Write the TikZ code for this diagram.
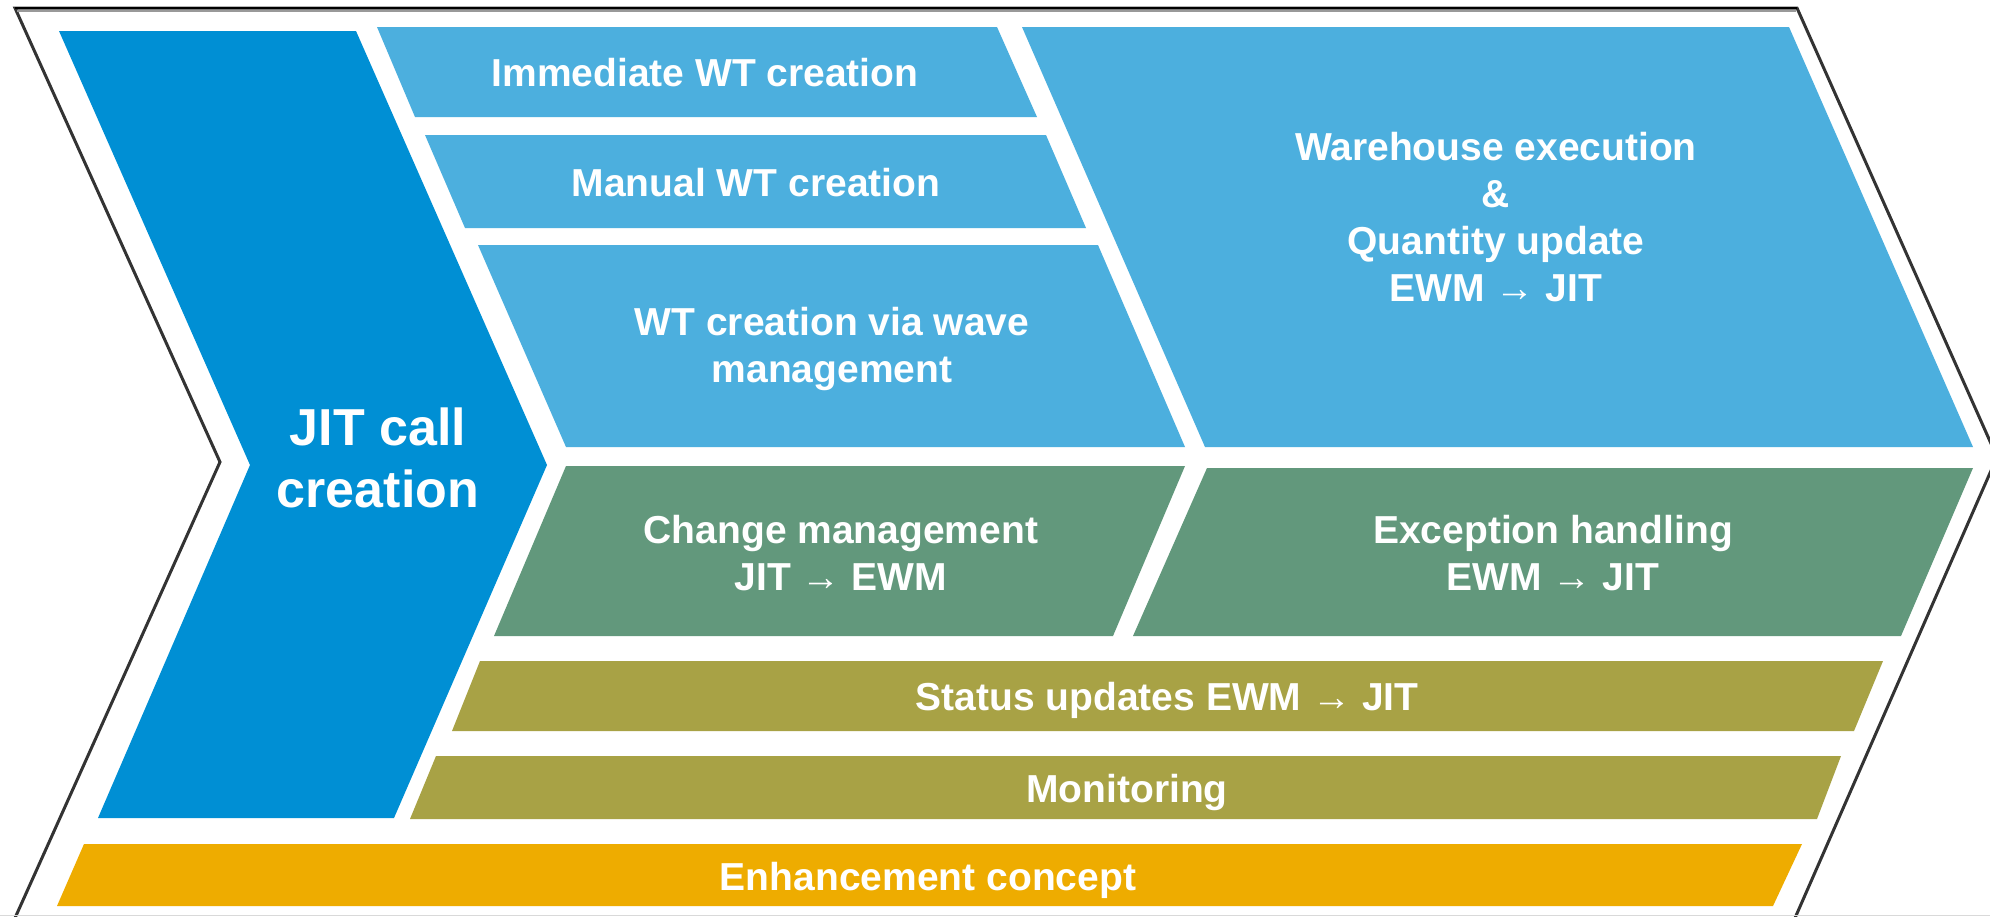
\documentclass[tikz,border=0pt]{standalone}
\usepackage{fontspec}
\setmainfont{Liberation Sans}
\definecolor{jitblue}{RGB}{0,143,212}
\definecolor{lblue}{RGB}{76,175,222}
\definecolor{sgreen}{RGB}{98,152,124}
\definecolor{olivebar}{RGB}{168,162,69}
\definecolor{goldbar}{RGB}{238,172,0}
\begin{document}
\begin{tikzpicture}[x=1pt,y=-1pt,
  lbl/.style={text=white,font=\bfseries\fontsize{39}{47}\selectfont,align=center,inner sep=0pt},
  one/.style={lbl,text height=28pt,text depth=0pt},
  big/.style={text=white,font=\bfseries\fontsize{52}{62}\selectfont,align=center,inner sep=0pt},
  outline/.style={draw=black!80,line width=3pt,line join=miter}]
\useasboundingbox (0,0) rectangle (1990,916);
\clip (0,0) rectangle (1990,916);
\fill[white] (0,0) rectangle (1990,916);

% outer chevron outline
\coordinate (oTL) at (15,8);
\coordinate (oTR) at (1797,8);
\coordinate (oTip) at (1997,457);
\coordinate (oBR) at (1795,918);
\coordinate (oBL) at (15,918);
\coordinate (oNotch) at (220,462);
\draw[outline] (oBL) -- (oNotch) -- (oTL) -- (oTR) -- (oTip) -- (oBR);
\draw[black,line width=2.5pt] (oTL) -- (oTR);
\draw[black!40,line width=2pt] (17,10.5) -- (1796,10.5);
\draw[black!15,line width=1pt] (0,915) -- (1990,915);

% JIT call creation
\fill[jitblue] (59,31) -- (356,31) -- (547,465) -- (394,818) -- (98,818) -- (250,465) -- cycle;
% light blue upper area
\fill[lblue] (377,27) -- (997,27) -- (1037,117) -- (415,117) -- cycle;
\fill[lblue] (425,135) -- (1046,135) -- (1086,228) -- (465,228) -- cycle;
\fill[lblue] (478,245) -- (1098,245) -- (1185,447) -- (566,447) -- cycle;
\fill[lblue] (1022,27) -- (1789,27) -- (1973,447) -- (1205,447) -- cycle;
% green row
\fill[sgreen] (566,466) -- (1185,466) -- (1113,636) -- (494,636) -- cycle;
\fill[sgreen] (1207,468) -- (1973,468) -- (1901,636) -- (1133,636) -- cycle;
% olive bars
\fill[olivebar] (480,661) -- (1883,661) -- (1854,731) -- (452,731) -- cycle;
\fill[olivebar] (436,756) -- (1841,756) -- (1817,819) -- (410,819) -- cycle;
% gold bar
\fill[goldbar] (84,844) -- (1802,844) -- (1773,906) -- (57,906) -- cycle;

% texts
\node[big] (jit) at (378,458) {JIT call\\creation};
\node[one] (imm) at (705,72) {Immediate WT creation};
\node[one] (man) at (756,182) {Manual WT creation};
\node[lbl] (wave) at (832,349) {WT creation via wave\\management};
\node[lbl] (wh) at (1496,217) {Warehouse execution\\\&\\Quantity update\\EWM → JIT};
\node[lbl] (chg) at (841,553) {Change management\\JIT → EWM};
\node[lbl] (exc) at (1553,553) {Exception handling\\EWM → JIT};
\node[one] (stat) at (1167,696) {Status updates EWM → JIT};
\node[one] (mon) at (1127,788) {Monitoring};
\node[one] (enh) at (928,876) {Enhancement concept};
\end{tikzpicture}
\end{document}
